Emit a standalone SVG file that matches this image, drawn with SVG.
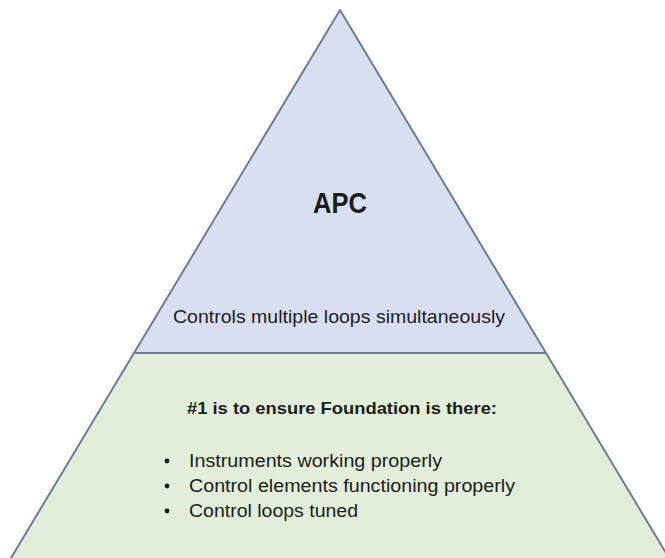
<svg xmlns="http://www.w3.org/2000/svg" width="665" height="558" viewBox="0 0 665 558">
<style>
.shape{stroke:#6f7c95;stroke-width:2;stroke-linejoin:round}
.t{font-family:"Liberation Sans",Arial,sans-serif;fill:#1c1c1c}
.b{font-weight:bold}
</style>
<rect width="665" height="558" fill="#ffffff"/>
<g id="apc">
<polygon class="shape" points="340,10 134,353 546,353" fill="#d8dff1"/>
<text class="t b" x="340" y="213" font-size="30" text-anchor="middle" textLength="54" lengthAdjust="spacingAndGlyphs">APC</text>
<text class="t" x="339" y="323" font-size="18.5" text-anchor="middle" textLength="332" lengthAdjust="spacingAndGlyphs">Controls multiple loops simultaneously</text>
</g>
<g id="foundation">
<polygon class="shape" points="134,353 546,353 672,563 8,563" fill="#e2eed9"/>
<text class="t b" x="342" y="414" font-size="17" text-anchor="middle" textLength="310" lengthAdjust="spacingAndGlyphs">#1 is to ensure Foundation is there:</text>
<circle cx="167" cy="461" r="2.4" fill="#1c1c1c"/>
<circle cx="167" cy="486" r="2.4" fill="#1c1c1c"/>
<circle cx="167" cy="511" r="2.4" fill="#1c1c1c"/>
<text class="t" x="189" y="467" font-size="18" textLength="253" lengthAdjust="spacingAndGlyphs">Instruments working properly</text>
<text class="t" x="189" y="492" font-size="18" textLength="326" lengthAdjust="spacingAndGlyphs">Control elements functioning properly</text>
<text class="t" x="189" y="517" font-size="18" textLength="169" lengthAdjust="spacingAndGlyphs">Control loops tuned</text>
</g>
</svg>
